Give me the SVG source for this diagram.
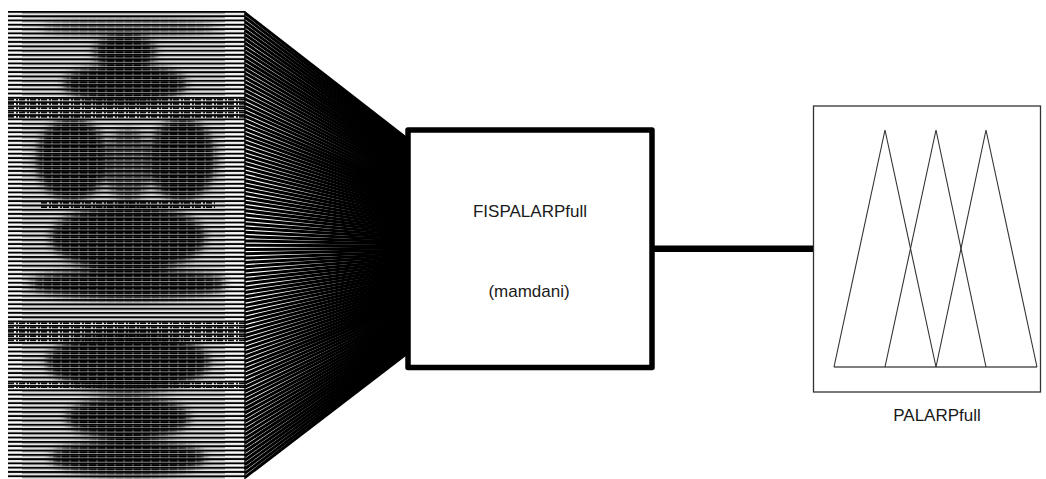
<svg xmlns="http://www.w3.org/2000/svg" width="1046" height="479" viewBox="0 0 1046 479">
  <style>
    .lbl { font-family: "Liberation Sans", Arial, sans-serif; font-size: 17px; fill: #1a1a1a; text-anchor: middle; }
    .fan line { stroke: #000; stroke-width: 3; }
    .mf { fill: none; stroke: #333; stroke-width: 1.1; stroke-linejoin: miter; }
  </style>
  <defs>
    <!-- one input panel per 4.3 px row: frame edge + white body -->
    <pattern id="rowFrame" patternUnits="userSpaceOnUse" x="8" y="11" width="237" height="4.3">
      <rect width="237" height="4.3" fill="#fff"/>
      <rect y="0" width="237" height="1.8" fill="#000"/>
      <rect y="3.5" width="237" height="0.5" fill="#aaa"/>
    </pattern>
    <!-- plot area of each panel: membership-curve haze -->
    <pattern id="rowAxes" patternUnits="userSpaceOnUse" x="8" y="11" width="237" height="4.3">
      <rect width="237" height="4.3" fill="#fff"/>
      <rect y="0" width="237" height="1.8" fill="#000"/>
      <rect y="1.8" width="237" height="1.2" fill="#8c8c8c"/>
      <rect y="3" width="237" height="1.3" fill="#e8e8e8"/>
    </pattern>
    <!-- dense curve crossings -->
    <pattern id="rowDash" patternUnits="userSpaceOnUse" x="8" y="11" width="9" height="4.3">
      <rect x="0" y="1.6" width="7" height="2.2" fill="#000"/>
      <rect x="7" y="1.6" width="2" height="2.2" fill="#333"/>
    </pattern>
    <pattern id="rowDot" patternUnits="userSpaceOnUse" x="8" y="11" width="11" height="4.3">
      <rect x="0" y="1.8" width="6" height="1.6" fill="#000"/>
      <rect x="8" y="1.8" width="2" height="1.6" fill="#000"/>
    </pattern>
    <filter id="soft" x="-20%" y="-20%" width="140%" height="140%">
      <feGaussianBlur stdDeviation="4"/>
    </filter>
    <!-- darker zones where many curves overlap -->
    <mask id="dense" maskUnits="userSpaceOnUse" x="0" y="0" width="260" height="479">
      <g fill="#fff" filter="url(#soft)">
        <ellipse cx="128" cy="28" rx="88" ry="8" fill="#999"/>
        <ellipse cx="125" cy="52" rx="32" ry="16"/>
        <ellipse cx="125" cy="84" rx="62" ry="20"/>
        <ellipse cx="72" cy="160" rx="36" ry="42"/>
        <ellipse cx="182" cy="160" rx="34" ry="42"/>
        <ellipse cx="128" cy="165" rx="24" ry="36" fill="#bbb"/>
        <ellipse cx="128" cy="238" rx="78" ry="34"/>
        <ellipse cx="128" cy="284" rx="98" ry="16"/>
        <ellipse cx="128" cy="362" rx="82" ry="30"/>
        <ellipse cx="128" cy="418" rx="62" ry="22"/>
        <ellipse cx="128" cy="458" rx="78" ry="18"/>
      </g>
    </mask>
  </defs>

  <rect width="1046" height="479" fill="#fff"/>

  <!-- input variables: 109 stacked panels -->
  <g id="inputs">
    <rect x="8" y="11" width="237" height="470" fill="url(#rowFrame)"/>
    <rect x="22" y="11" width="203" height="470" fill="url(#rowAxes)"/>
    <rect x="8" y="11" width="237" height="470" fill="url(#rowDash)" mask="url(#dense)"/>
    <g fill="url(#rowDot)">
      <rect x="8" y="97" width="237" height="21"/>
      <rect x="8" y="320" width="237" height="22"/>
      <rect x="8" y="380" width="237" height="8"/>
      <rect x="40" y="200" width="175" height="10"/>
    </g>
    <rect x="244.3" y="11" width="1.4" height="470" fill="#000"/>
  </g>

  <!-- connectors: each input panel to the inference block, then block to output -->
  <g id="connectors">
    <g class="fan">
      <line x1="245" y1="13" x2="406" y2="138"/>
      <line x1="245" y1="17.3" x2="406" y2="140"/>
      <line x1="245" y1="21.6" x2="406" y2="142"/>
      <line x1="245" y1="25.9" x2="406" y2="144"/>
      <line x1="245" y1="30.2" x2="406" y2="146"/>
      <line x1="245" y1="34.5" x2="406" y2="148"/>
      <line x1="245" y1="38.8" x2="406" y2="150"/>
      <line x1="245" y1="43.1" x2="406" y2="152"/>
      <line x1="245" y1="47.4" x2="406" y2="154"/>
      <line x1="245" y1="51.7" x2="406" y2="156"/>
      <line x1="245" y1="56" x2="406" y2="158"/>
      <line x1="245" y1="60.3" x2="406" y2="160"/>
      <line x1="245" y1="64.6" x2="406" y2="162"/>
      <line x1="245" y1="68.9" x2="406" y2="164"/>
      <line x1="245" y1="73.2" x2="406" y2="166"/>
      <line x1="245" y1="77.5" x2="406" y2="168"/>
      <line x1="245" y1="81.8" x2="406" y2="170"/>
      <line x1="245" y1="86.1" x2="406" y2="172"/>
      <line x1="245" y1="90.4" x2="406" y2="174"/>
      <line x1="245" y1="94.7" x2="406" y2="176"/>
      <line x1="245" y1="99" x2="406" y2="178"/>
      <line x1="245" y1="103.3" x2="406" y2="180"/>
      <line x1="245" y1="107.6" x2="406" y2="182"/>
      <line x1="245" y1="111.9" x2="406" y2="184"/>
      <line x1="245" y1="116.2" x2="406" y2="186"/>
      <line x1="245" y1="120.5" x2="406" y2="188"/>
      <line x1="245" y1="124.8" x2="406" y2="190"/>
      <line x1="245" y1="129.1" x2="406" y2="192"/>
      <line x1="245" y1="133.4" x2="406" y2="194"/>
      <line x1="245" y1="137.7" x2="406" y2="196"/>
      <line x1="245" y1="142" x2="406" y2="198"/>
      <line x1="245" y1="146.3" x2="406" y2="200"/>
      <line x1="245" y1="150.6" x2="406" y2="202"/>
      <line x1="245" y1="154.9" x2="406" y2="204"/>
      <line x1="245" y1="159.2" x2="406" y2="206"/>
      <line x1="245" y1="163.5" x2="406" y2="208"/>
      <line x1="245" y1="167.8" x2="406" y2="210"/>
      <line x1="245" y1="172.1" x2="406" y2="212"/>
      <line x1="245" y1="176.4" x2="406" y2="214"/>
      <line x1="245" y1="180.7" x2="406" y2="216"/>
      <line x1="245" y1="185" x2="406" y2="218"/>
      <line x1="245" y1="189.3" x2="406" y2="220"/>
      <line x1="245" y1="193.6" x2="406" y2="222"/>
      <line x1="245" y1="197.9" x2="406" y2="224"/>
      <line x1="245" y1="202.2" x2="406" y2="226"/>
      <line x1="245" y1="206.5" x2="406" y2="228"/>
      <line x1="245" y1="210.8" x2="406" y2="230"/>
      <line x1="245" y1="215.1" x2="406" y2="232"/>
      <line x1="245" y1="219.4" x2="406" y2="234"/>
      <line x1="245" y1="223.7" x2="406" y2="236"/>
      <line x1="245" y1="228" x2="406" y2="238"/>
      <line x1="245" y1="232.3" x2="406" y2="240"/>
      <line x1="245" y1="236.6" x2="406" y2="242"/>
      <line x1="245" y1="240.9" x2="406" y2="244"/>
      <line x1="245" y1="245.2" x2="406" y2="246"/>
      <line x1="245" y1="249.5" x2="406" y2="248"/>
      <line x1="245" y1="253.8" x2="406" y2="250"/>
      <line x1="245" y1="258.1" x2="406" y2="252"/>
      <line x1="245" y1="262.4" x2="406" y2="254"/>
      <line x1="245" y1="266.7" x2="406" y2="256"/>
      <line x1="245" y1="271" x2="406" y2="258"/>
      <line x1="245" y1="275.3" x2="406" y2="260"/>
      <line x1="245" y1="279.6" x2="406" y2="262"/>
      <line x1="245" y1="283.9" x2="406" y2="264"/>
      <line x1="245" y1="288.2" x2="406" y2="266"/>
      <line x1="245" y1="292.5" x2="406" y2="268"/>
      <line x1="245" y1="296.8" x2="406" y2="270"/>
      <line x1="245" y1="301.1" x2="406" y2="272"/>
      <line x1="245" y1="305.4" x2="406" y2="274"/>
      <line x1="245" y1="309.7" x2="406" y2="276"/>
      <line x1="245" y1="314" x2="406" y2="278"/>
      <line x1="245" y1="318.3" x2="406" y2="280"/>
      <line x1="245" y1="322.6" x2="406" y2="282"/>
      <line x1="245" y1="326.9" x2="406" y2="284"/>
      <line x1="245" y1="331.2" x2="406" y2="286"/>
      <line x1="245" y1="335.5" x2="406" y2="288"/>
      <line x1="245" y1="339.8" x2="406" y2="290"/>
      <line x1="245" y1="344.1" x2="406" y2="292"/>
      <line x1="245" y1="348.4" x2="406" y2="294"/>
      <line x1="245" y1="352.7" x2="406" y2="296"/>
      <line x1="245" y1="357" x2="406" y2="298"/>
      <line x1="245" y1="361.3" x2="406" y2="300"/>
      <line x1="245" y1="365.6" x2="406" y2="302"/>
      <line x1="245" y1="369.9" x2="406" y2="304"/>
      <line x1="245" y1="374.2" x2="406" y2="306"/>
      <line x1="245" y1="378.5" x2="406" y2="308"/>
      <line x1="245" y1="382.8" x2="406" y2="310"/>
      <line x1="245" y1="387.1" x2="406" y2="312"/>
      <line x1="245" y1="391.4" x2="406" y2="314"/>
      <line x1="245" y1="395.7" x2="406" y2="316"/>
      <line x1="245" y1="400" x2="406" y2="318"/>
      <line x1="245" y1="404.3" x2="406" y2="320"/>
      <line x1="245" y1="408.6" x2="406" y2="322"/>
      <line x1="245" y1="412.9" x2="406" y2="324"/>
      <line x1="245" y1="417.2" x2="406" y2="326"/>
      <line x1="245" y1="421.5" x2="406" y2="328"/>
      <line x1="245" y1="425.8" x2="406" y2="330"/>
      <line x1="245" y1="430.1" x2="406" y2="332"/>
      <line x1="245" y1="434.4" x2="406" y2="334"/>
      <line x1="245" y1="438.7" x2="406" y2="336"/>
      <line x1="245" y1="443" x2="406" y2="338"/>
      <line x1="245" y1="447.3" x2="406" y2="340"/>
      <line x1="245" y1="451.6" x2="406" y2="342"/>
      <line x1="245" y1="455.9" x2="406" y2="344"/>
      <line x1="245" y1="460.2" x2="406" y2="346"/>
      <line x1="245" y1="464.5" x2="406" y2="348"/>
      <line x1="245" y1="468.8" x2="406" y2="350"/>
      <line x1="245" y1="473.1" x2="406" y2="352"/>
      <line x1="245" y1="477.4" x2="406" y2="354"/>
    </g>
    <line x1="652" y1="248.8" x2="814" y2="248.8" stroke="#000" stroke-width="6.5"/>
  </g>

  <!-- inference system block -->
  <g id="fis">
    <rect x="408" y="130" width="244" height="237.5" fill="#fff" stroke="#000" stroke-width="5.5" stroke-linejoin="round"/>
    <text class="lbl" x="530" y="217">FISPALARPfull</text>
    <text class="lbl" x="529" y="297">(mamdani)</text>
  </g>

  <!-- output variable with its three triangular membership functions -->
  <g id="output">
    <rect x="813.5" y="106" width="227" height="286" fill="#fff" stroke="#333" stroke-width="1.3"/>
    <line x1="834" y1="367" x2="1037" y2="367" stroke="#555" stroke-width="1.4"/>
    <polyline class="mf" points="834,367 885,130 936,367"/>
    <polyline class="mf" points="885,367 936,130 986,367"/>
    <polyline class="mf" points="936,367 986,130 1037,367"/>
    <text class="lbl" x="937" y="421">PALARPfull</text>
  </g>
</svg>
